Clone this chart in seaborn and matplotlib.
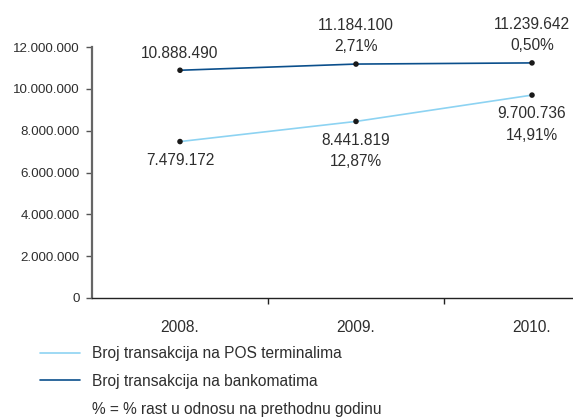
import matplotlib
matplotlib.use("Agg")
import matplotlib.pyplot as plt
from matplotlib.lines import Line2D
import seaborn as sns
import pandas as pd

years = ["2008.", "2009.", "2010."]
pos_values = [7479172, 8441819, 9700736]
atm_values = [10888490, 11184100, 11239642]
pos_growth = ["", "12,87%", "14,91%"]
atm_growth = ["", "2,71%", "0,50%"]
series_names = ["Broj transakcija na POS terminalima", "Broj transakcija na bankomatima"]
note_text = "% = % rast u odnosu na prethodnu godinu"
y_ticks = [0, 2000000, 4000000, 6000000, 8000000, 10000000, 12000000]

sns.set_theme(style="white")
plt.rcParams["font.family"] = ["Liberation Sans", "DejaVu Sans"]
TXT = "#2e2e2e"
LIGHT = "#8dd3f2"
DARK = "#0b4f8c"

df = pd.DataFrame({
    "year": years * 2,
    "value": pos_values + atm_values,
    "series": [series_names[0]] * 3 + [series_names[1]] * 3,
})

fig = plt.figure(figsize=(5.73, 4.17), dpi=100)
ax = fig.add_axes([92 / 573, 1 - 298 / 417, 528 / 573, 251 / 417])

sns.lineplot(data=df, x="year", y="value", hue="series",
             palette={series_names[0]: LIGHT, series_names[1]: DARK},
             linewidth=1.2, ax=ax, legend=False, sort=False)
sns.scatterplot(data=df, x="year", y="value", color="#1a1a1a", s=16,
                edgecolor="none", ax=ax, legend=False, zorder=5)

ax.set_xlim(-0.5, 2.5)
ax.set_ylim(0, 12000000)
ax.set_yticks(y_ticks)
ax.set_yticklabels([f"{v:,}".replace(",", ".") for v in y_ticks])
ax.set_xticks(range(len(years)))
ax.set_xticklabels(years)
ax.set_xticks([0.5, 1.5], minor=True)
ax.set_xlabel("")
ax.set_ylabel("")

ax.tick_params(axis="y", which="major", direction="out", length=4, width=1,
               color="#555555", labelsize=9.6, labelcolor=TXT, pad=5, left=True)
ax.tick_params(axis="x", which="major", length=0, labelsize=11.2, labelcolor=TXT, pad=16)
ax.tick_params(axis="x", which="minor", direction="out", length=4, width=1,
               color="#222222", bottom=True)

for s in ["top", "right"]:
    ax.spines[s].set_visible(False)
ax.spines["left"].set_color("#666666")
ax.spines["left"].set_linewidth(1.6)
ax.spines["bottom"].set_color("#222222")
ax.spines["bottom"].set_linewidth(1.0)

# value labels
for i in range(len(years)):
    lab = f"{atm_values[i]:,}".replace(",", ".")
    if atm_growth[i]:
        lab += "\n" + atm_growth[i]
    ax.annotate(lab, (i, atm_values[i]), xytext=(0, 7), textcoords="offset points",
                ha="center", va="bottom", fontsize=11.2, color=TXT, linespacing=1.55)
    lab = f"{pos_values[i]:,}".replace(",", ".")
    if pos_growth[i]:
        lab += "\n" + pos_growth[i]
    ax.annotate(lab, (i, pos_values[i]), xytext=(0, -8), textcoords="offset points",
                ha="center", va="top", fontsize=11.2, color=TXT, linespacing=1.55)

handles = [Line2D([], [], color=LIGHT, lw=1.2),
           Line2D([], [], color=DARK, lw=1.2),
           Line2D([], [], color="none", lw=0)]
leg = fig.legend(handles, series_names + [note_text], loc="upper left",
                 bbox_to_anchor=(40 / 573, 1 - 346 / 417), frameon=False,
                 borderpad=0, borderaxespad=0, handlelength=2.6, handletextpad=0.75,
                 labelspacing=0.82, fontsize=11.2)
for t in leg.get_texts():
    t.set_color(TXT)

fig.savefig("out.png", dpi=100)
